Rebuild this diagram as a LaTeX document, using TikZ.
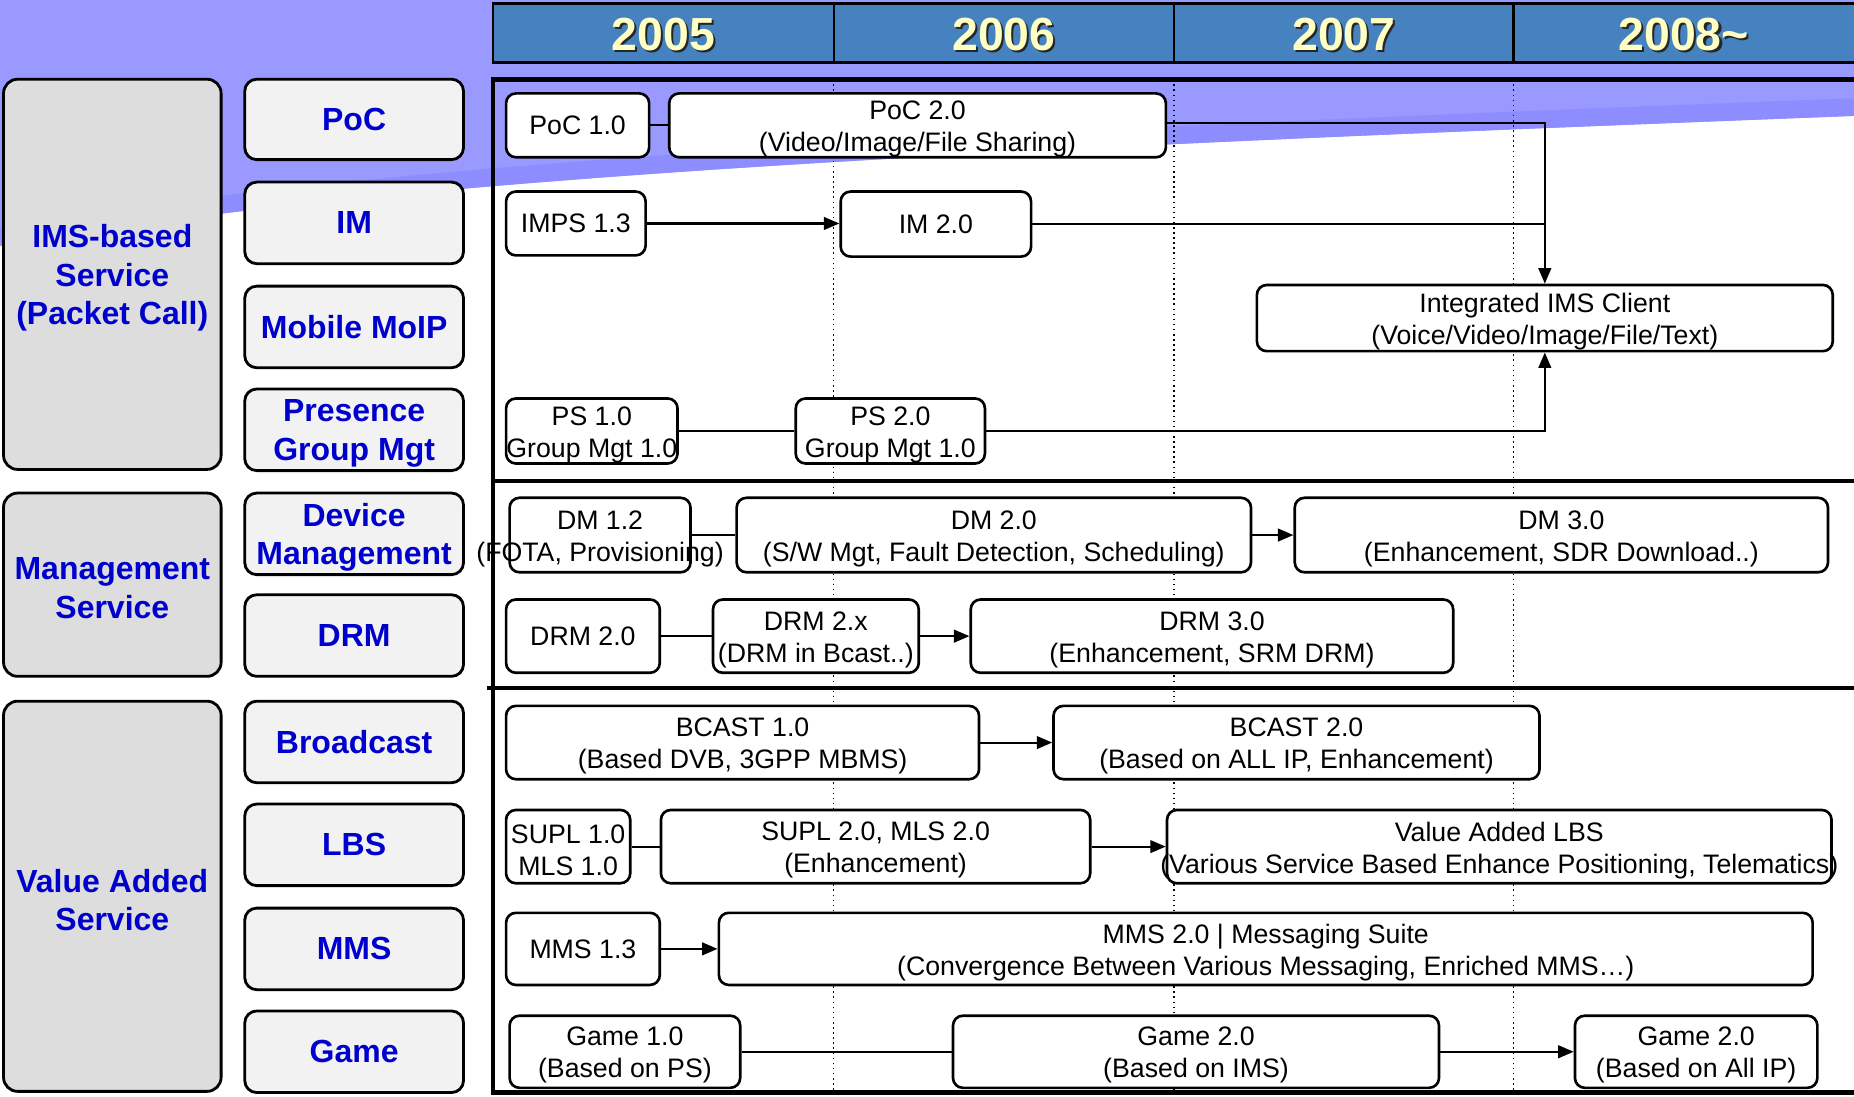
\documentclass[tikz,border=0pt]{standalone}
\usepackage{fontspec}
\setmainfont{Liberation Sans}
\usetikzlibrary{arrows.meta}

\definecolor{bgpurple}{HTML}{9999FF}
\definecolor{bgband}{HTML}{8D8DFF}
\definecolor{hdrblue}{HTML}{4682C0}
\definecolor{yearyellow}{HTML}{FFFFC4}
\definecolor{lblblue}{HTML}{0000CC}
\definecolor{grpgray}{HTML}{DDDDDD}
\definecolor{catgray}{HTML}{F2F2F2}

% one drawing unit
\def\px{0.011824cm}

\tikzset{
  grpbox/.style={draw=black, line width=0.8pt, fill=grpgray, rounded corners=4pt, inner sep=0pt},
  catbox/.style={draw=black, line width=0.8pt, fill=catgray, rounded corners=3.4pt, inner sep=0pt},
  lbltxt/.style={text=lblblue, font=\bfseries\fontsize{9.1}{10.9}\selectfont, align=center, inner sep=0pt},
  verbox/.style={draw=black, line width=0.75pt, fill=white, rounded corners=2.8pt, inner sep=0pt},
  boxtxt/.style={font=\fontsize{7.6}{9.1}\selectfont, align=center, inner sep=0pt},
  ml/.style={yshift=-1pt},
  conn/.style={line width=0.6pt},
  arr/.style={conn, -{Triangle[length=4.4pt,width=3.6pt]}},
  yearlbl/.style={font=\bfseries\fontsize{13.2}{14}\selectfont, text=yearyellow, inner sep=0pt},
  yearshadow/.style={font=\bfseries\fontsize{13.2}{14}\selectfont, text=black!85, inner sep=0pt},
  frameline/.style={line width=1.3pt},
  yeargrid/.style={densely dotted, line width=0.45pt},
}

% labelled box: [text style], box style, name, x1, y1, x2, y2, text
\newcommand\lblbox[8][]{%
  \node[#2, minimum width={(#6-#4)*\px}, minimum height={(#7-#5)*\px}]
    (#3) at ({(#4+#6)/2},{(#5+#7)/2}) {};
  \node[lbltxt, #1] (#3-txt) at (#3.center) {#8};}
% version box, text may run past its border: [text style], name, x1, y1, x2, y2, text
\newcommand\verat[7][]{%
  \node[verbox, minimum width={(#5-#3)*\px}, minimum height={(#6-#4)*\px}]
    (#2) at ({(#3+#5)/2},{(#4+#6)/2}) {};
  \node[boxtxt, #1] (#2-txt) at (#2.center) {#7};}

\begin{document}
\begin{tikzpicture}[x=\px, y=-\px]
\useasboundingbox (0,0) rectangle (1568,927);
\clip (0,0) rectangle (1568,927);

% backdrop with the swoosh
\fill[white] (0,0) rectangle (1568,927);
\fill[bgpurple] (0,0) -- (1568,0) -- (1568,98)
  .. controls (900,124) and (350,146) .. (0,208) -- cycle;
\draw[bgband, line width=15*\px] (1568,90.5)
  .. controls (900,116.5) and (350,138.5) .. (0,200.5);

% year header
\draw[fill=hdrblue, line width=0.8pt] (417,3) rectangle (1590,53);
\foreach \xx in {705,993,1280} \draw[line width=0.6pt] (\xx,3) -- (\xx,53);
\foreach \nm/\xx/\yr in {y5/561/2005, y6/849/2006, y7/1136.5/2007, y8/1424/2008\textasciitilde} {
  \node[yearshadow] (\nm-s) at (\xx+1.8,30.8) {\yr};
  \node[yearlbl] (\nm) at (\xx,29) {\yr};
}

% timeline frame
\foreach \xx in {705,993,1280} \draw[yeargrid] (\xx,67) -- (\xx,924);
\draw[frameline] (1590,67) -- (417,67) -- (417,924) -- (1590,924);
\draw[line width=1pt] (417,407) -- (1590,407);
\draw[line width=1pt] (412,582) -- (1590,582);

% service groups
\lblbox[ml]{grpbox}{gims}{3}{67}{187}{397}{IMS-based\\Service\\(Packet Call)}
\lblbox[ml]{grpbox}{gmgt}{3}{417}{187}{572}{Management\\Service}
\lblbox[ml]{grpbox}{gvas}{3}{593}{187}{923}{Value Added\\Service}

% service categories
\lblbox{catbox}{cpoc}{207}{67}{392}{135}{PoC}
\lblbox{catbox}{cim}{207}{154}{392}{223}{IM}
\lblbox{catbox}{cvoip}{207}{242}{392}{311}{Mobile MoIP}
\lblbox[ml]{catbox}{cpres}{207}{329}{392}{398}{Presence\\Group Mgt}
\lblbox[ml]{catbox}{cdm}{207}{417}{392}{486}{Device\\Management}
\lblbox{catbox}{cdrm}{207}{503}{392}{572}{DRM}
\lblbox{catbox}{cbc}{207}{593}{392}{662}{Broadcast}
\lblbox{catbox}{clbs}{207}{680}{392}{749}{LBS}
\lblbox{catbox}{cmms}{207}{768}{392}{837}{MMS}
\lblbox{catbox}{cgame}{207}{855}{392}{924}{Game}

% releases
\verat{poc1}{428}{79}{549}{133}{PoC 1.0}
\verat[ml]{poc2}{566}{79}{986}{133}{PoC 2.0\\(Video/Image/File Sharing)}
\verat{imps}{428}{162}{546}{216}{IMPS 1.3}
\verat{im2}{711}{162}{872}{217}{IM 2.0}
\verat[ml]{ims}{1063}{241}{1550}{297}{Integrated IMS Client\\(Voice/Video/Image/File/Text)}
\verat[ml]{ps1}{428}{337}{573}{392}{PS 1.0\\Group Mgt 1.0}
\verat[ml]{ps2}{673}{337}{833}{392}{PS 2.0\\Group Mgt 1.0}
\verat[ml]{dm1}{431}{421}{584}{484}{DM 1.2\\(FOTA, Provisioning)}
\verat[ml]{dm2}{623}{421}{1058}{484}{DM 2.0\\(S/W Mgt, Fault Detection, Scheduling)}
\verat[ml]{dm3}{1095}{421}{1546}{484}{DM 3.0\\(Enhancement, SDR Download..)}
\verat{drm1}{428}{507}{558}{569}{DRM 2.0}
\verat[ml]{drm2}{603}{507}{777}{569}{DRM 2.x\\(DRM in Bcast..)}
\verat[ml]{drm3}{821}{507}{1229}{569}{DRM 3.0\\(Enhancement, SRM DRM)}
\verat[ml]{bc1}{428}{597}{828}{659}{BCAST 1.0\\(Based DVB, 3GPP MBMS)}
\verat[ml]{bc2}{891}{597}{1302}{659}{BCAST 2.0\\(Based on ALL IP, Enhancement)}
\verat[ml]{lbs1}{428}{685}{533}{747}{SUPL 1.0\\MLS 1.0}
\verat[ml]{lbs2}{559}{685}{922}{747}{SUPL 2.0, MLS 2.0\\(Enhancement)}
\verat[ml]{lbs3}{987}{685}{1549}{747}{Value Added LBS\\(Various Service Based Enhance Positioning, Telematics)}
\verat{mms1}{428}{772}{558}{833}{MMS 1.3}
\verat[ml]{mms2}{608}{772}{1533}{833}{MMS 2.0 | Messaging Suite\\(Convergence Between Various Messaging, Enriched MMS…)}
\verat[ml]{game1}{431}{859}{626}{920}{Game 1.0\\(Based on PS)}
\verat[ml]{game2}{806}{859}{1217}{920}{Game 2.0\\(Based on IMS)}
\verat[ml]{game3}{1332}{859}{1537}{920}{Game 2.0\\(Based on All IP)}

% transitions
\draw[conn] (poc1.east) -- (poc1.east -| poc2.west);
\draw[arr] ([yshift=2*\px]poc2.east) -| (ims.north);
\draw[arr] (imps.east) -- (imps.east -| im2.west);
\draw[conn] (im2.east) -- (im2.east -| ims.north);
\draw[conn] (ps1.east) -- (ps1.east -| ps2.west);
\draw[arr] (ps2.east) -| (ims.south);
\draw[conn] (dm1.east) -- (dm1.east -| dm2.west);
\draw[arr] (dm2.east) -- (dm2.east -| dm3.west);
\draw[conn] (drm1.east) -- (drm1.east -| drm2.west);
\draw[arr] (drm2.east) -- (drm2.east -| drm3.west);
\draw[arr] (bc1.east) -- (bc1.east -| bc2.west);
\draw[conn] (lbs1.east) -- (lbs1.east -| lbs2.west);
\draw[arr] (lbs2.east) -- (lbs2.east -| lbs3.west);
\draw[arr] (mms1.east) -- (mms1.east -| mms2.west);
\draw[conn] (game1.east) -- (game1.east -| game2.west);
\draw[arr] (game2.east) -- (game2.east -| game3.west);
\end{tikzpicture}
\end{document}
